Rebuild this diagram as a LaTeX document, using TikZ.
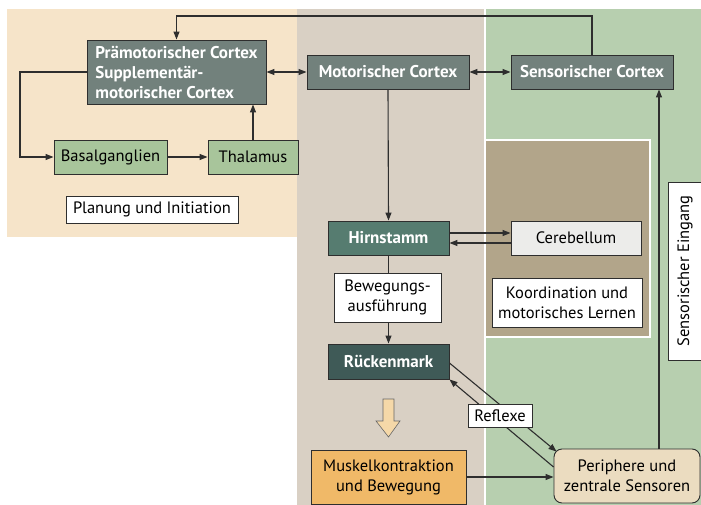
\documentclass[tikz,border=0pt]{standalone}
\usepackage{fontspec}
\setmainfont{PT Sans}
\usetikzlibrary{arrows.meta,calc}

\definecolor{bgplan}{HTML}{F6E4C9}
\definecolor{bgmid}{HTML}{D9D0C4}
\definecolor{bgsens}{HTML}{B7CFAF}
\definecolor{bgcere}{HTML}{B2A58A}
\definecolor{cortexgray}{HTML}{72817C}
\definecolor{stemgreen}{HTML}{567C70}
\definecolor{corddark}{HTML}{3F5A57}
\definecolor{nucgreen}{HTML}{A8C59B}
\definecolor{cerefill}{HTML}{ECECEA}
\definecolor{muscle}{HTML}{F0B968}
\definecolor{sensor}{HTML}{EBDCC0}
\definecolor{hollow}{HTML}{F5D8A8}
\definecolor{wire}{HTML}{2E2E2E}

\tikzset{
  base/.style={draw=wire, line width=0.9pt, inner sep=1pt, align=center, font=\fontsize{16.5}{20}\selectfont},
  darkbox/.style={base, text=white, font=\fontsize{17}{20}\selectfont\bfseries},
  lightbox/.style={base, text=black},
  labelbox/.style={base, fill=white, line width=0.8pt},
  tip/.style={Triangle[length=8pt,width=6pt]},
  arr/.style={draw=wire, line width=1.1pt, -{Triangle[length=8pt,width=6pt]}},
  dblarr/.style={draw=wire, line width=1.1pt, {Triangle[length=8pt,width=6pt]}-{Triangle[length=8pt,width=6pt]}},
  plain/.style={draw=wire, line width=1.1pt},
}

\begin{document}
\begin{tikzpicture}[x=1pt,y=-1pt]
\useasboundingbox (0,0) rectangle (701,505);

% background zones
\fill[bgplan] (7,9) rectangle (297,237);
\fill[bgmid] (297,9) rectangle (485,505);
\fill[bgsens] (485,9) rectangle (701,505);
\draw[white, line width=1.5pt] (485,9) -- (485,505);
\draw[white, line width=1.5pt, fill=bgcere] (485,140) rectangle (650,337);

% nodes
\node[darkbox, fill=cortexgray, minimum width=179, minimum height=64, align=left] (pm) at (176.5,72)
  {Prämotorischer Cortex\\Supplementär-\\motorischer Cortex};
\node[darkbox, fill=cortexgray, minimum width=162, minimum height=34] (mc) at (388,72) {Motorischer Cortex};
\node[darkbox, fill=cortexgray, minimum width=162, minimum height=34] (sc) at (592,72) {Sensorischer Cortex};
\node[lightbox, fill=nucgreen, minimum width=113, minimum height=34] (bg) at (110.5,157) {Basalganglien};
\node[lightbox, fill=nucgreen, minimum width=90, minimum height=34] (th) at (253,157) {Thalamus};
\node[labelbox, minimum width=172, minimum height=27] (plan) at (152,209.5) {Planung und Initiation};
\node[darkbox, fill=stemgreen, minimum width=121, minimum height=34] (hs) at (388.5,238) {Hirnstamm};
\node[lightbox, fill=cerefill, minimum width=130, minimum height=34] (cb) at (576,238) {Cerebellum};
\node[labelbox, minimum width=107, minimum height=49] (bew) at (387.5,297.5) {Bewegungs-\\ausführung};
\node[labelbox, minimum width=150, minimum height=49] (koord) at (567,302.5) {Koordination und\\motorisches Lernen};
\node[darkbox, fill=corddark, minimum width=121, minimum height=35] (rm) at (388.5,361.5) {Rückenmark};
\node[lightbox, fill=muscle, minimum width=155, minimum height=54] (mk) at (388.5,477) {Muskelkontraktion\\und Bewegung};
\node[lightbox, fill=sensor, rounded corners=8pt, minimum width=146, minimum height=54] (pz) at (627,476) {Periphere und\\zentrale Sensoren};
\node[labelbox, rotate=90, minimum width=178, minimum height=34] (ein) at (685,271) {Sensorischer Eingang};

% hollow arrow towards the muscle box
\filldraw[fill=hollow, draw=gray!80!black, line width=0.6pt]
  (383,399) -- (394,399) -- (394,421) -- (400,421) -- (388.5,437) -- (376,421) -- (383,421) -- cycle;

% helper coordinates for routed connectors
\coordinate (toploop) at (0,16);
\coordinate (leftx) at (20,0);
\coordinate (sensx) at (659,0);

% connectors
\draw[arr] (sc.north) -- (sc.north |- toploop) -- (pm.north |- toploop) -- (pm.north);
\draw[dblarr] (pm.east) -- (mc.west);
\draw[dblarr] (mc.east) -- (sc.west);
\draw[arr] (pm.west) -- (leftx |- pm.west) -- (leftx |- bg.west) -- (bg.west);
\draw[arr] (bg.east) -- (th.west);
\draw[arr] (th.north) -- (th.north |- pm.south);
\draw[arr] (mc.south) -- (hs.north);
\draw[arr] ([yshift=5pt]hs.east) -- ([yshift=5pt]hs.east -| cb.west);
\draw[arr] ([yshift=-5pt]cb.west) -- ([yshift=-5pt]cb.west -| hs.east);
\draw[plain] (hs.south) -- (bew.north -| hs.south);
\draw[arr] (bew.south -| rm.north) -- (rm.north);
\draw[arr] ([yshift=-1.5pt]rm.east) -- ([xshift=3pt,yshift=-3pt]pz.north west);
\draw[arr] ([yshift=9pt]pz.west) -- (rm.south east);
\draw[arr] (mk.east) -- (mk.east -| pz.west);
\draw[arr] (sensx |- pz.north) -- (sensx |- sc.south);

% label over the reflex arcs
\node[labelbox, minimum width=64, minimum height=23] (refl) at (500,415.5) {Reflexe};
\end{tikzpicture}
\end{document}
